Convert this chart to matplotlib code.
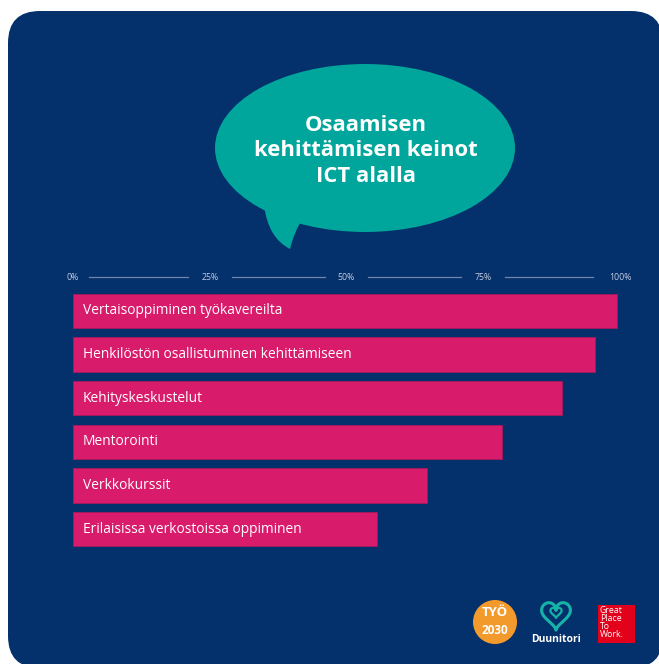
import numpy as np
import matplotlib.pyplot as plt
from matplotlib.patches import FancyBboxPatch, Ellipse, PathPatch, Circle, Rectangle
from matplotlib.path import Path
import matplotlib.transforms as mtransforms

categories = [
    "Vertaisoppiminen työkavereilta",
    "Henkilöstön osallistuminen kehittämiseen",
    "Kehityskeskustelut",
    "Mentorointi",
    "Verkkokurssit",
    "Erilaisissa verkostoissa oppiminen",
]
values = [99.5, 95.4, 89.4, 78.4, 64.7, 55.6]
tick_vals = [0, 25, 50, 75, 100]
tick_labels = ["0%", "25%", "50%", "75%", "100%"]
title = "Osaamisen\nkehittämisen keinot\nICT alalla"

navy = "#04306b"
pink = "#d81b6a"
teal = "#00a59b"
W, H = 659, 664

plt.rcParams['font.family'] = ['Open Sans', 'DejaVu Sans']

fig = plt.figure(figsize=(W / 100, H / 100), dpi=100)
fig.patch.set_facecolor("white")

# background layer in pixel coordinates
bg = fig.add_axes([0, 0, 1, 1])
bg.set_xlim(0, W)
bg.set_ylim(H, 0)
bg.axis("off")
bg.add_patch(FancyBboxPatch((8, 11), 655, 657, boxstyle="round,pad=0,rounding_size=32",
                            fc=navy, ec="none"))

# speech bubble
bg.add_patch(Ellipse((365, 148), 300, 168, fc=teal, ec="none"))
verts = [(264, 205), (268, 238), (290, 249), (294, 232), (303, 218), (264, 205)]
codes = [Path.MOVETO, Path.CURVE3, Path.CURVE3, Path.CURVE3, Path.CURVE3, Path.CLOSEPOLY]
bg.add_patch(PathPatch(Path(verts, codes), fc=teal, ec="none"))
bg.text(366, 151, title, color="white", fontsize=15.8, fontweight="bold",
        ha="center", va="center", linespacing=1.28)

# logos
bg.add_patch(Circle((495, 622), 22, fc="#f39a2c", ec="none"))
bg.text(495, 612, "TYÖ", color="white", fontsize=9.5, fontweight="bold", ha="center", va="center")
bg.text(495, 631, "2030", color="white", fontsize=8.5, fontweight="bold", ha="center", va="center")

t = np.linspace(0, 2 * np.pi, 200)
hx = 16 * np.sin(t) ** 3
hy = 13 * np.cos(t) - 5 * np.cos(2 * t) - 2 * np.cos(3 * t) - np.cos(4 * t)
bg.plot(556 + hx * 0.9, 614 - hy * 0.95, color="#16b3a8", lw=2.2)
bg.plot(556 + hx * 0.35, 612 - hy * 0.35, color="#16b3a8", lw=1.6)
bg.text(556, 640, "Duunitori", color="white", fontsize=7.5, fontweight="bold",
        ha="center", va="center")

bg.add_patch(Rectangle((598, 605), 37, 38, fc="#e2001a", ec="none"))
bg.text(600, 606, "Great\nPlace\nTo\nWork.", color="white", fontsize=6.3,
        ha="left", va="top", linespacing=0.88)

# bar chart
left, right = 73 / W, 620 / W
top, bottom = 289 / H, 551 / H
ax = fig.add_axes([left, 1 - bottom, right - left, bottom - top])
ax.patch.set_alpha(0)
y = np.arange(len(categories))
ax.barh(y, values, height=0.78, color=pink, edgecolor="#a8185e", linewidth=0.6)
for yi, c in zip(y, categories):
    ax.text(1.8, yi, c, color="white", fontsize=9.9, ha="left", va="center")
ax.set_xlim(0, 100)
ax.set_ylim(len(categories) - 0.5, -0.5)
ax.axis("off")

# percentage scale above the bars
trans = mtransforms.blended_transform_factory(ax.transData, ax.transAxes)
ty = 1 + 12 / (bottom * H - top * H)
gaps = [3.0, 4.0, 4.0, 4.0, 5.0]
for v, lab in zip(tick_vals, tick_labels):
    ax.text(v, ty, lab, color="#c3cde0", fontsize=6.3, ha="center", va="center",
            transform=trans, clip_on=False)
for i in range(len(tick_vals) - 1):
    ax.plot([tick_vals[i] + gaps[i], tick_vals[i + 1] - gaps[i + 1]], [ty, ty],
            color="#6e86b0", lw=0.9, transform=trans, clip_on=False)

fig.savefig("out.png", dpi=100)
